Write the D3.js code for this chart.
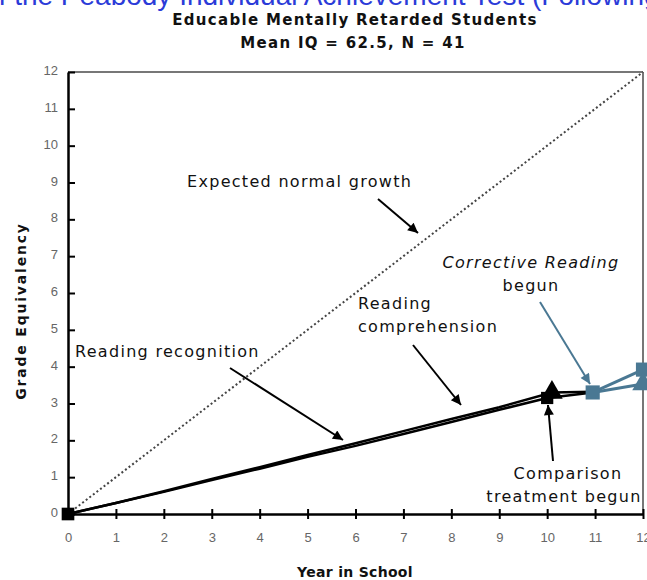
<!DOCTYPE html>
<html lang="en">
<head>
<meta charset="UTF-8" />
<title>Educable Mentally Retarded Students</title>
<style>
  body { margin: 0; background: #fff; overflow: hidden; }
  svg { font-family: "DejaVu Sans", "Liberation Sans", Arial, sans-serif; }
  .tick text { fill: #666; font-size: 13px; }
  .ann { font-size: 16px; fill: #111; letter-spacing: 1.3px; }
  .bold { font-weight: bold; fill: #111; }
</style>
</head>
<body>
<script src="https://cdn.jsdelivr.net/npm/d3@7/dist/d3.min.js"></script>
<script>
// data
var years = [0, 1, 2, 3, 4, 5, 6, 7, 8, 9, 10, 11, 12];
var expected = [0, 1, 2, 3, 4, 5, 6, 7, 8, 9, 10, 11, 12];
var recogYears = [0, 1, 2, 3, 4, 5, 6, 7, 8, 9, 10, 10.95];
var recogVals = [0, 0.3, 0.6, 0.92, 1.23, 1.55, 1.85, 2.17, 2.5, 2.83, 3.15, 3.3];
var compYears = [0, 1, 2, 3, 4, 5, 6, 7, 8, 9, 10.1, 10.95];
var compVals = [0, 0.3, 0.62, 0.95, 1.27, 1.6, 1.92, 2.25, 2.58, 2.9, 3.3, 3.32];
var corrYears = [10.95, 12];
var corrRecog = [3.3, 3.92];
var corrComp = [3.3, 3.53];
var yTicks = [0, 1, 2, 3, 4, 5, 6, 7, 8, 9, 10, 11, 12];

var w = 647, h = 580;
var margin = { top: 72, left: 68, right: 4, bottom: 66 };
var blue = "#4a7893";

var svg = d3.select("body").append("svg")
    .attr("width", w)
    .attr("height", h);

var x = d3.scaleLinear().domain([0, 12]).range([margin.left, w - margin.right]);
var y = d3.scaleLinear().domain([0, 12]).range([h - margin.bottom, margin.top]);

// arrow heads
var defs = svg.append("defs");
[["ah", "#000"], ["ahb", blue]].forEach(function(m) {
  defs.append("marker")
      .attr("id", m[0])
      .attr("viewBox", "0 0 10 10")
      .attr("refX", 10).attr("refY", 5)
      .attr("markerWidth", 6).attr("markerHeight", 5)
      .attr("markerUnits", "strokeWidth")
      .attr("orient", "auto")
    .append("path")
      .attr("d", "M0,0L10,5L0,10z")
      .attr("fill", m[1]);
});

// cut-off caption line at the very top
svg.append("text")
    .attr("x", -17).attr("y", 5)
    .attr("fill", "#2b3bd8")
    .style("font-family", "'Liberation Sans', Arial, sans-serif")
    .style("font-size", "28px")
    .text("of the Peabody Individual Achievement Test (Following");

svg.append("text").attr("class", "bold")
    .attr("x", 355).attr("y", 25)
    .attr("text-anchor", "middle")
    .style("font-size", "15px").style("letter-spacing", "1.3px")
    .text("Educable Mentally Retarded Students");
svg.append("text").attr("class", "bold")
    .attr("x", 353).attr("y", 48)
    .attr("text-anchor", "middle")
    .style("font-size", "15px").style("letter-spacing", "1.3px")
    .text("Mean IQ = 62.5, N = 41");

// frame top and right
svg.append("line")
    .attr("x1", x(0)).attr("x2", x(12))
    .attr("y1", y(12)).attr("y2", y(12))
    .attr("stroke", "#777").attr("stroke-width", 2);
svg.append("line")
    .attr("x1", x(12)).attr("x2", x(12))
    .attr("y1", y(12)).attr("y2", y(0))
    .attr("stroke", "#777").attr("stroke-width", 2);

// axes
var xAxis = svg.append("g")
    .attr("transform", "translate(0," + y(0) + ")")
    .call(d3.axisBottom(x).tickValues(years).tickSize(5).tickSizeOuter(0).tickPadding(14));
xAxis.select(".domain").attr("stroke-width", 2.5);
xAxis.selectAll(".tick line").attr("y1", -5).attr("stroke-width", 2);

var yAxis = svg.append("g")
    .attr("transform", "translate(" + x(0) + ",0)")
    .call(d3.axisLeft(y).tickValues(yTicks).tickSize(2).tickSizeOuter(0).tickPadding(8));
yAxis.select(".domain").attr("stroke-width", 2.5);
yAxis.selectAll(".tick line").attr("x2", 7).attr("stroke-width", 2);
yAxis.selectAll(".tick text").attr("dy", "0.2em");

svg.append("text").attr("class", "bold")
    .attr("transform", "translate(26," + 311 + ") rotate(-90)")
    .attr("text-anchor", "middle")
    .style("font-size", "14px").style("letter-spacing", "1.8px")
    .text("Grade  Equivalency");
svg.append("text").attr("class", "bold")
    .attr("x", 355).attr("y", 577)
    .attr("text-anchor", "middle")
    .style("font-size", "14px").style("letter-spacing", "0.3px")
    .text("Year in School");

var line = d3.line()
    .x(function(d) { return x(d[0]); })
    .y(function(d) { return y(d[1]); });

// expected normal growth
svg.append("path")
    .datum(years.map(function(d, i) { return [d, expected[i]]; }))
    .attr("d", line)
    .attr("fill", "none")
    .attr("stroke", "#444")
    .attr("stroke-width", 2)
    .attr("stroke-dasharray", "2,2.5");

// reading recognition / comprehension
svg.append("path")
    .datum(recogYears.map(function(d, i) { return [d, recogVals[i]]; }))
    .attr("d", line)
    .attr("fill", "none").attr("stroke", "#000").attr("stroke-width", 2.5);
svg.append("path")
    .datum(compYears.map(function(d, i) { return [d, compVals[i]]; }))
    .attr("d", line)
    .attr("fill", "none").attr("stroke", "#000").attr("stroke-width", 2.5);

// corrective reading period
[corrRecog, corrComp].forEach(function(vals) {
  svg.append("path")
      .datum(corrYears.map(function(d, i) { return [d, vals[i]]; }))
      .attr("d", line)
      .attr("fill", "none").attr("stroke", blue).attr("stroke-width", 3);
});

// markers
function mark(px, py, type, size, color) {
  svg.append("path")
      .attr("transform", "translate(" + x(px) + "," + y(py) + ")")
      .attr("d", d3.symbol().type(type).size(size))
      .attr("fill", color);
}
mark(0, 0, d3.symbolSquare, 160, "#000");
mark(recogYears[10], recogVals[10], d3.symbolSquare, 150, "#000");
mark(compYears[10], compVals[10], d3.symbolTriangle, 200, "#000");
mark(corrYears[0], corrRecog[0], d3.symbolSquare, 200, blue);
mark(corrYears[1], corrRecog[1], d3.symbolSquare, 200, blue);
mark(corrYears[1], corrComp[1], d3.symbolTriangle, 200, blue);

// annotations
function arrow(x1, y1, x2, y2, color, marker) {
  svg.append("line")
      .attr("x1", x1).attr("y1", y1).attr("x2", x2).attr("y2", y2)
      .attr("stroke", color).attr("stroke-width", 2)
      .attr("marker-end", "url(#" + marker + ")");
}

svg.append("text").attr("class", "ann")
    .attr("x", 187).attr("y", 187)
    .text("Expected  normal  growth");
arrow(378, 199, 418, 233, "#000", "ah");

svg.append("text").attr("class", "ann")
    .attr("x", 358).attr("y", 309).text("Reading");
svg.append("text").attr("class", "ann")
    .attr("x", 358).attr("y", 332).text("comprehension");
arrow(413, 345, 461, 405, "#000", "ah");

svg.append("text").attr("class", "ann")
    .attr("x", 75).attr("y", 357).text("Reading  recognition");
arrow(230, 368, 343, 440, "#000", "ah");

svg.append("text").attr("class", "ann")
    .attr("x", 531).attr("y", 268)
    .attr("text-anchor", "middle")
    .attr("fill", blue).style("font-style", "italic")
    .text("Corrective  Reading");
svg.append("text").attr("class", "ann")
    .attr("x", 531).attr("y", 291)
    .attr("text-anchor", "middle")
    .attr("fill", blue)
    .text("begun");
arrow(540, 302, 590, 384, blue, "ahb");

svg.append("text").attr("class", "ann")
    .attr("x", 568).attr("y", 479)
    .attr("text-anchor", "middle").text("Comparison");
svg.append("text").attr("class", "ann")
    .attr("x", 564).attr("y", 502)
    .attr("text-anchor", "middle").text("treatment  begun");
arrow(553, 461, 548, 405, "#000", "ah");
</script>
</body>
</html>
